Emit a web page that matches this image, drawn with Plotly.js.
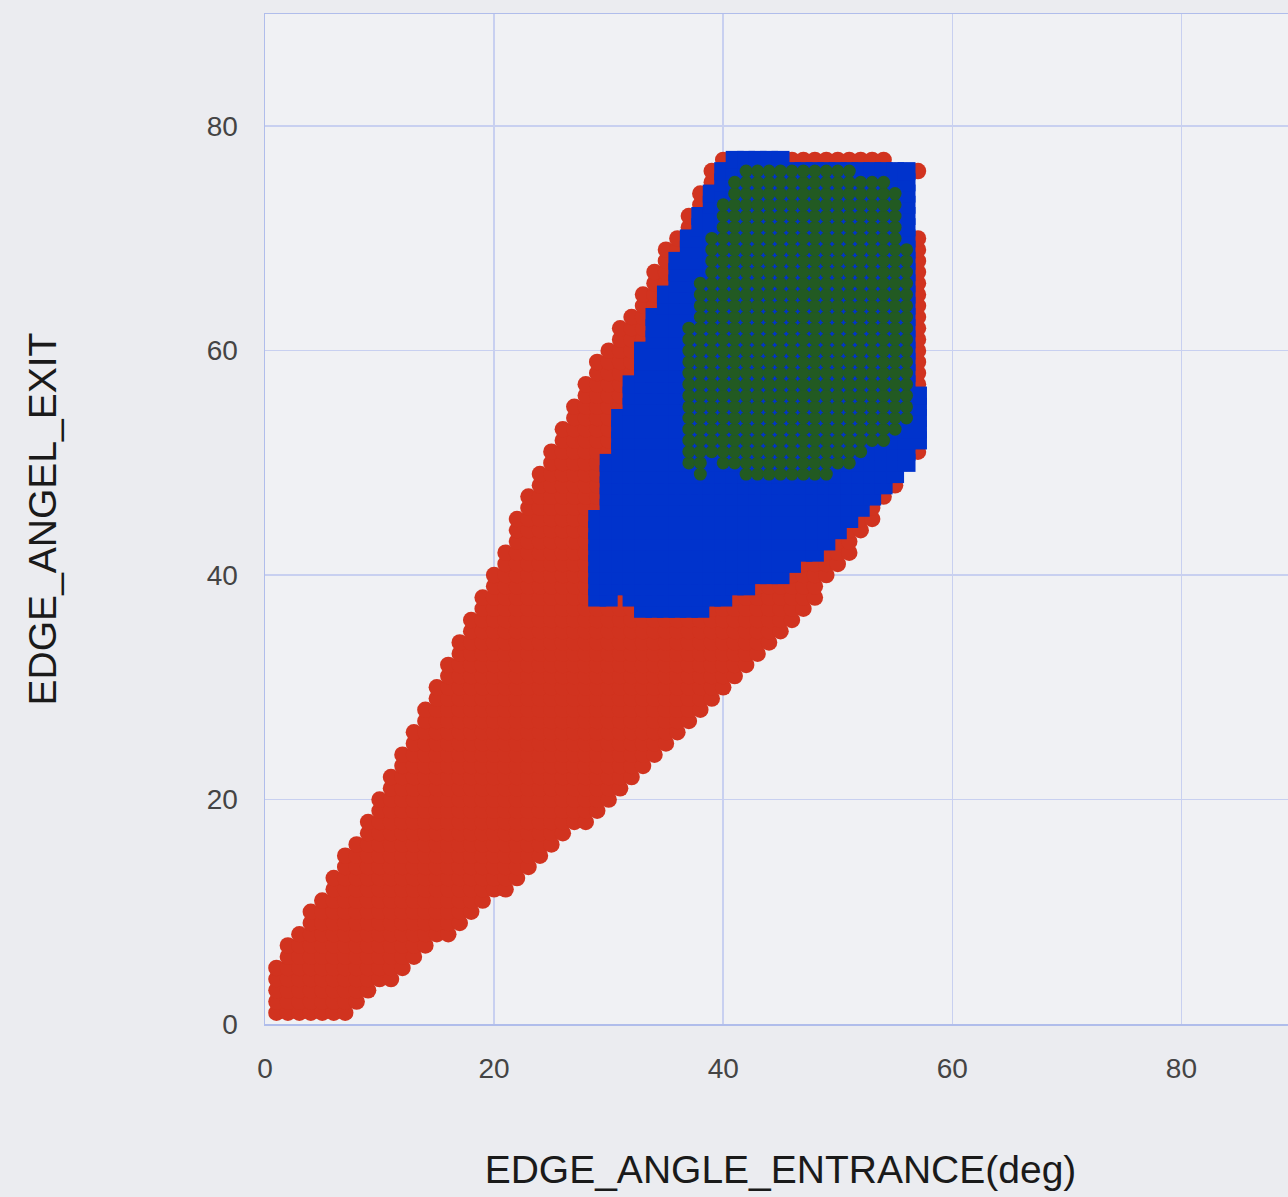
<!DOCTYPE html>
<html>
<head>
<meta charset="utf-8">
<script src="https://cdn.plot.ly/plotly-3.0.1.min.js"></script>
<style>
  html, body { margin: 0; padding: 0; background: #ebecf0; overflow: hidden; }
  #chart { width: 1300px; height: 1197px; }
</style>
</head>
<body>
<div id="chart"></div>
<script>
// ---- data (grid rows, 1-degree spacing) ----
// Red region: rows y = 1..77, x from redMin to redMax
const redY = [];
for (let y = 1; y <= 77; y++) redY.push(y);
const redMin = [1,1,1,1,1,2,2,3,4,4,5,6,6,7,7,8,9,9,10,10,11,11,12,12,13,13,14,14,15,15,
  16,16,17,17,18,18,19,19,20,20,21,21,22,22,22,23,23,24,24,25,25,26,26,27,27,28,28,29,29,30,
  31,31,32,33,33,34,34,35,35,36,37,37,38,38,39,39,40];
const redMax = [7,8,9,11,12,13,14,16,17,18,19,21,22,23,24,25,26,28,29,30,31,32,33,34,35,36,37,38,39,40,
  41,42,43,44,45,46,47,48,48,49,50,51,51,52,53,53,54,55,55,56,
  57,57,57,57,57,57,57,57,57,57,57,57,57,57,57,57,57,57,57,57,
  56,56,56,56,56,57,54];

// Blue region: rows y = 37..77
const blueY = [];
for (let y = 37; y <= 77; y++) blueY.push(y);
const blueMin = [33,29,29,29,29,29,29,29,29,30,30,30,30,30,31,31,31,31,32,32,32,33,33,33,
  34,34,34,35,35,36,36,36,37,37,38,38,39,39,40,40,41];
const blueMax = [38,40,42,45,46,48,49,50,51,52,53,54,55,56,56,57,57,57,57,57,
  56,56,56,56,56,56,56,56,56,56,56,56,56,56,56,56,56,56,56,56,45];
const blueGaps = [[31, 38]];

// Green region: rows y = 49..76
const greenY = [];
for (let y = 49; y <= 76; y++) greenY.push(y);
const greenMin = [38,37,37,37,37,37,37,37,37,37,37,37,37,37,38,38,38,38,39,39,39,39,40,40,40,41,41,42];
const greenMax = [49,51,52,54,55,56,56,56,56,56,56,56,56,56,56,56,56,56,56,56,56,55,55,55,55,55,54,51];
const greenGaps = [[39, 49], [40, 49], [41, 49], [39, 50]];

const xTicks = [0, 20, 40, 60, 80];
const yTicks = [0, 20, 40, 60, 80];
const xTitle = 'EDGE_ANGLE_ENTRANCE(deg)';
const yTitle = 'EDGE_ANGEL_EXIT';

// ---- build point lists from the row ranges ----
function expand(ys, mins, maxs, gaps) {
  const gx = [], gy = [];
  const skip = new Set((gaps || []).map(g => g[0] + ',' + g[1]));
  for (let i = 0; i < ys.length; i++) {
    for (let x = mins[i]; x <= maxs[i]; x++) {
      if (skip.has(x + ',' + ys[i])) continue;
      gx.push(x); gy.push(ys[i]);
    }
  }
  return {x: gx, y: gy};
}
const red = expand(redY, redMin, redMax);
const blue = expand(blueY, blueMin, blueMax, blueGaps);
const green = expand(greenY, greenMin, greenMax, greenGaps);

const traces = [
  {type: 'scatter', mode: 'markers', x: red.x, y: red.y, name: 'red',
   marker: {color: '#d1331f', size: 16.5, symbol: 'circle', line: {width: 0}}},
  {type: 'scatter', mode: 'markers', x: blue.x, y: blue.y, name: 'blue',
   marker: {color: '#0033cc', size: 18, symbol: 'square', line: {width: 0}}},
  {type: 'scatter', mode: 'markers', x: green.x, y: green.y, name: 'green',
   marker: {color: '#225a22', size: 13, symbol: 'circle', line: {width: 0}}}
];

const axisCommon = {
  range: [0, 90],
  showgrid: true, gridcolor: '#c8d0f0', gridwidth: 1.5,
  zeroline: false,
  showline: true, linecolor: '#b0bdeb', linewidth: 1.5, mirror: true,
  ticks: '',
  tickfont: {family: 'Liberation Sans, Arial, sans-serif', size: 28, color: '#444'},
  fixedrange: true
};

const titleFont = {family: 'Liberation Sans, Arial, sans-serif', size: 39, color: '#1a1a1a'};

const layout = {
  width: 1300, height: 1197,
  margin: {l: 265, r: 4, t: 14, b: 173},
  paper_bgcolor: '#ebecf0',
  plot_bgcolor: '#f0f1f4',
  showlegend: false,
  xaxis: Object.assign({}, axisCommon, {
    tickvals: xTicks, ticktext: xTicks.map(String),
    ticklabelstandoff: 19,
    title: {text: xTitle, standoff: 72, font: titleFont}
  }),
  yaxis: Object.assign({}, axisCommon, {
    tickvals: yTicks, ticktext: yTicks.map(String),
    ticklabelstandoff: 20,
    title: {text: yTitle, standoff: 138, font: titleFont}
  })
};

Plotly.newPlot('chart', traces, layout, {displayModeBar: false, staticPlot: true});
</script>
</body>
</html>
